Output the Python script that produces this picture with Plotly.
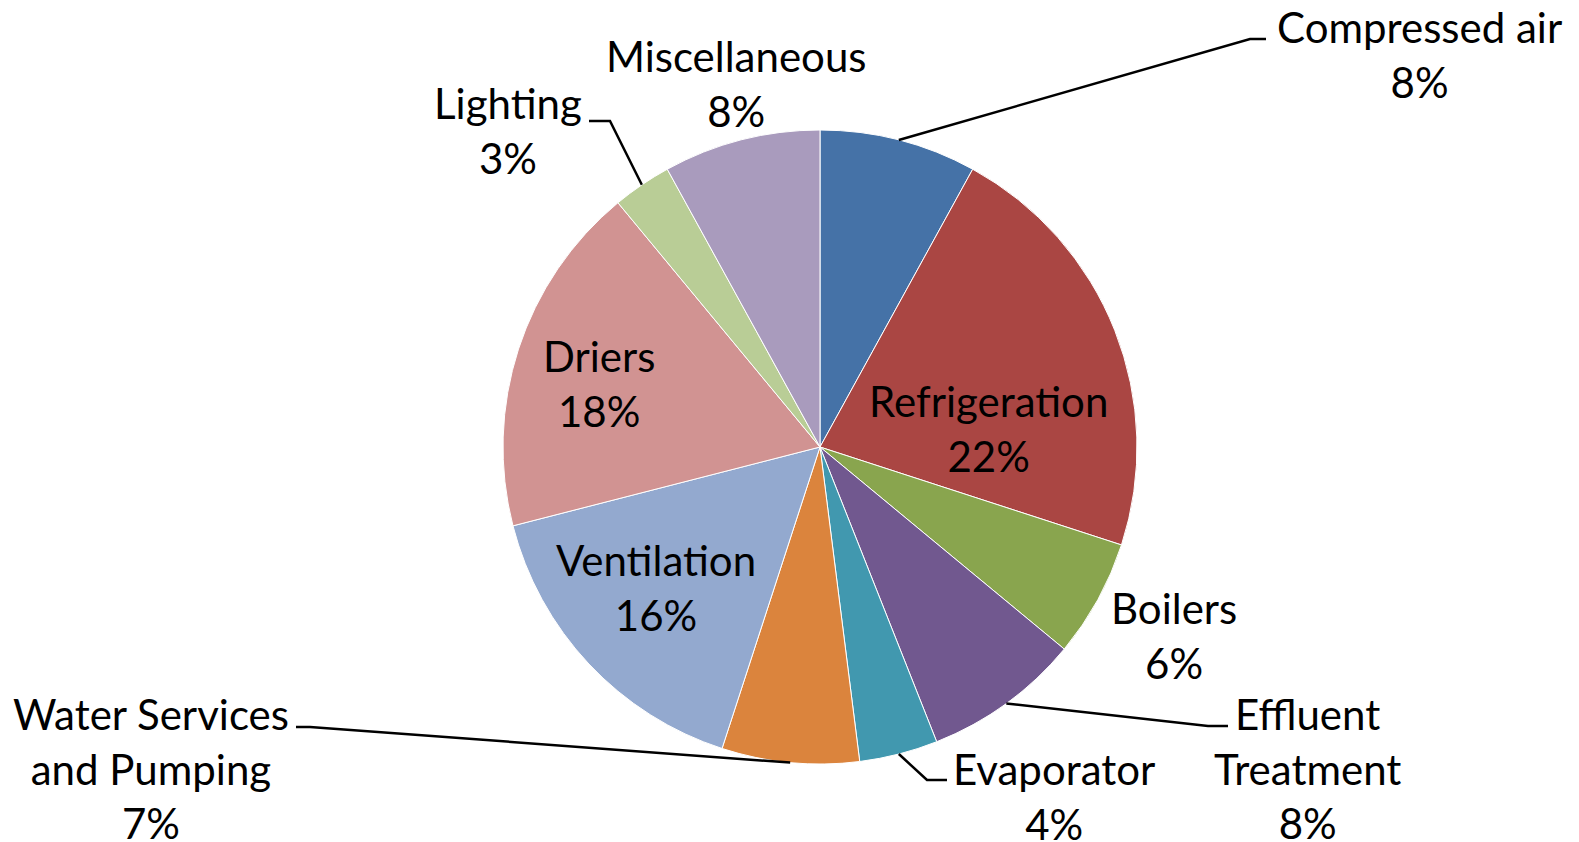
import math
import plotly.graph_objects as go

W, H = 1579, 842

labels = ["Compressed air", "Refrigeration", "Boilers", "Effluent Treatment", "Evaporator",
          "Water Services and Pumping", "Ventilation", "Driers", "Lighting", "Miscellaneous"]
values = [8, 22, 6, 8, 4, 7, 16, 18, 3, 8]
colors = ["#4572A7", "#AA4643", "#89A54E", "#71588F", "#4198AF",
          "#DB843D", "#93A9CF", "#D19392", "#B9CD96", "#A99BBD"]

# text shown on chart (line breaks as in the reference)
label_text = ["Compressed air", "Refrigeration", "Boilers", "Effluent<br>Treatment", "Evaporator",
              "Water Services<br>and Pumping", "Ventilation", "Driers", "Lighting", "Miscellaneous"]
# label centres in pixels (page has an 8px body margin, so these are offset)
label_pos = [(1411, 47), (980, 420), (1166, 627), (1299, 760), (1046, 788),
             (143, 760), (648, 579), (591, 375), (500, 123), (728, 76)]
# leader lines: slice index -> elbow points (pixels)
leaders = {
    0: [(1242, 31), (1258, 31)],
    8: [(602, 113), (581, 113)],
    3: [(1200, 718), (1220, 718)],
    4: [(919, 772), (939, 772)],
    5: [(302, 719), (288, 719)],
}

CX, CY, R = 812, 439, 317
FONT = "Lato, 'Open Sans', sans-serif"

def px(x, y):
    return x / W, 1 - y / H

fig = go.Figure(go.Pie(
    labels=labels, values=values, sort=False, direction="clockwise", rotation=0,
    marker=dict(colors=colors, line=dict(color="white", width=1)),
    textinfo="none", hoverinfo="label+percent", showlegend=False,
    domain=dict(x=[(CX - R) / W, (CX + R) / W], y=[1 - (CY + R) / H, 1 - (CY - R) / H]),
))

for i, (txt, v) in enumerate(zip(label_text, values)):
    x, y = px(*label_pos[i])
    fig.add_annotation(x=x, y=y, xref="paper", yref="paper", text=f"{txt}<br>{v}%",
                       showarrow=False, xanchor="center", yanchor="middle",
                       font=dict(family=FONT, size=42, color="black"))

total = sum(values)
cum = 0
mids = []
for v in values:
    mids.append((cum + v / 2) / total * 2 * math.pi)
    cum += v

for i, pts in leaders.items():
    a = mids[i]
    sx, sy = CX + R * math.sin(a), CY - R * math.cos(a)
    path_pts = [px(sx, sy)] + [px(*p) for p in pts]
    path = "M " + " L ".join(f"{x:.5f},{y:.5f}" for x, y in path_pts)
    fig.add_shape(type="path", path=path, xref="paper", yref="paper",
                  line=dict(color="black", width=2.5))

fig.update_layout(width=W, height=H, margin=dict(l=0, r=0, t=0, b=0),
                  paper_bgcolor="white", plot_bgcolor="white")
fig.write_html("out.html")
